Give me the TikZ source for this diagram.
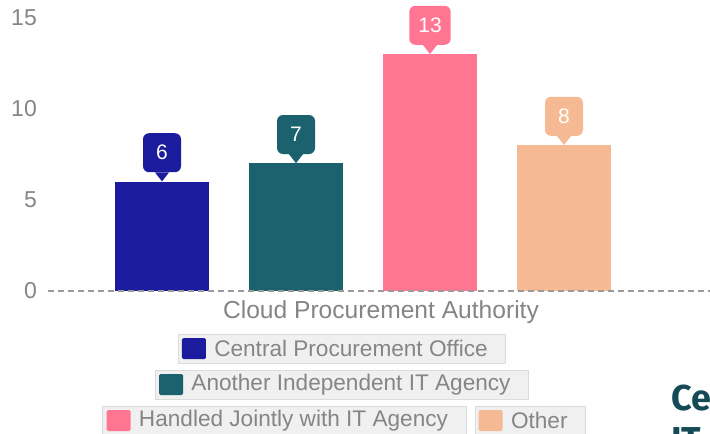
\documentclass[tikz,border=0pt]{standalone}
\usepackage{fontspec}
\setmainfont{Liberation Sans}
\newfontfamily\logofont{Fira Sans}
\usetikzlibrary{positioning}
\definecolor{cpoblue}{HTML}{1B1B9E}
\definecolor{agencyteal}{HTML}{1B616E}
\definecolor{jointpink}{HTML}{FF7592}
\definecolor{otherpeach}{HTML}{F5B994}
\definecolor{axisgray}{HTML}{858585}
\definecolor{dashgray}{HTML}{9A9A9A}
\definecolor{legfill}{HTML}{F0F0F0}
\definecolor{legline}{HTML}{DCDCDC}
\definecolor{logoteal}{HTML}{154B57}

\begin{document}
\begin{tikzpicture}[x=1pt,y=-1pt,
  bar/.style={minimum width=94pt,inner sep=0pt,anchor=south},
  callout/.style={rounded corners=6pt,minimum width=38pt,minimum height=39pt,inner sep=9pt,text=white,font=\fontsize{21}{24}\selectfont},
  tick/.style={anchor=east,inner sep=0pt,text=axisgray,font=\fontsize{23}{26}\selectfont},
  legbox/.style={fill=legfill,draw=legline,line width=1pt,minimum height=29pt,inner ysep=0pt,inner xsep=18pt,text=axisgray,font=\fontsize{22.6}{25}\selectfont},
  swatch/.style={minimum width=24pt,minimum height=21pt,inner sep=0pt,rounded corners=1.5pt,anchor=west}]
\useasboundingbox (0,0) rectangle (710,434);
\fill[white] (0,0) rectangle (710,434);
\node[tick] (tkA) at (37,291) {0};
\node[tick] (tkB) at (37,200) {5};
\node[tick] (tkC) at (37,109) {10};
\node[tick] (tkD) at (37,18) {15};
\node[bar,fill=cpoblue,minimum height=109.2pt] (barA) at (162,291) {};
\node[bar,fill=agencyteal,minimum height=127.4pt] (barB) at (296,291) {};
\node[bar,fill=jointpink,minimum height=236.6pt] (barC) at (430,291) {};
\node[bar,fill=otherpeach,minimum height=145.6pt] (barD) at (564,291) {};
\coordinate (axisL) at (48,291);
\coordinate (axisR) at (710,291);
\draw[dashgray,line width=1.2pt,dash pattern=on 6pt off 4pt] (axisL) -- (axisR);
\node[callout,fill=cpoblue,above=9pt of barA] (valA) {6};
\fill[cpoblue] ([xshift=-7pt]valA.south) -- (barA.north) -- ([xshift=7pt]valA.south) -- cycle;
\node[callout,fill=agencyteal,above=9pt of barB] (valB) {7};
\fill[agencyteal] ([xshift=-7pt]valB.south) -- (barB.north) -- ([xshift=7pt]valB.south) -- cycle;
\node[callout,fill=jointpink,above=9pt of barC] (valC) {13};
\fill[jointpink] ([xshift=-7pt]valC.south) -- (barC.north) -- ([xshift=7pt]valC.south) -- cycle;
\node[callout,fill=otherpeach,above=9pt of barD] (valD) {8};
\fill[otherpeach] ([xshift=-7pt]valD.south) -- (barD.north) -- ([xshift=7pt]valD.south) -- cycle;
\node[text=axisgray,font=\fontsize{24.6}{28}\selectfont] (xtitle) at (381,312) {Cloud Procurement Authority};
\node[legbox] (legA) at (342,348.5) {\hspace*{18pt}Central Procurement Office};
\node[swatch,fill=cpoblue,right=4pt of legA.west] (swA) {};
\node[legbox] (legB) at (342,384.5) {\hspace*{18pt}Another Independent IT Agency};
\node[swatch,fill=agencyteal,right=4pt of legB.west] (swB) {};
\node[legbox] (legC) at (284.5,420.5) {\hspace*{18pt}Handled Jointly with IT Agency};
\node[swatch,fill=jointpink,right=4pt of legC.west] (swC) {};
\node[legbox,right=8pt of legC] (legD) {\hspace*{18pt}Other};
\node[swatch,fill=otherpeach,right=4pt of legD.west] (swD) {};
\begin{scope}
\clip (0,0) rectangle (710,434);
\node[anchor=base west,inner sep=0pt,align=left,text=logoteal,font=\logofont\fontsize{36}{42}\selectfont\bfseries] (logo) at (671,452) {Ce\\IT};
\end{scope}
\end{tikzpicture}
\end{document}
